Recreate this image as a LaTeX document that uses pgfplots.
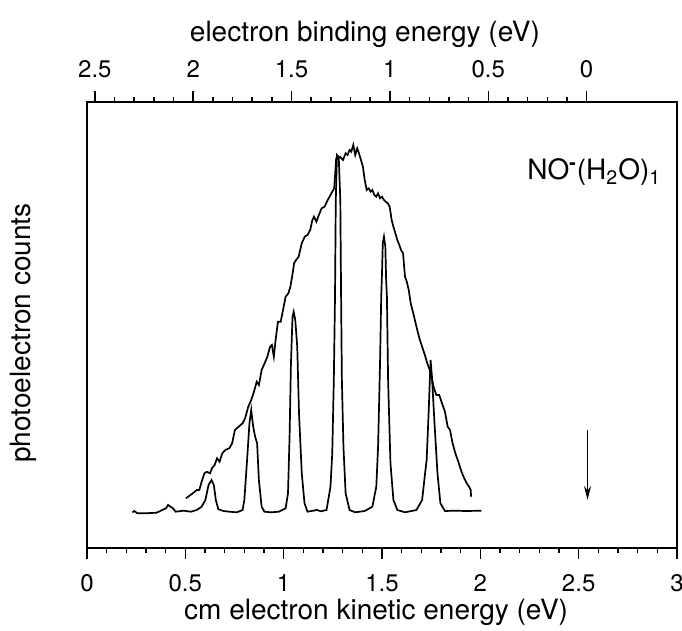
\documentclass[border=0pt]{standalone}
\usepackage{fontspec}
\setmainfont{TeX Gyre Heros}
\usepackage{pgfplots}
\pgfplotsset{compat=1.18}
\usetikzlibrary{arrows.meta}

\begin{document}
\begin{tikzpicture}
\pgfplotsset{
  common/.style={
    width=295pt, height=223pt, scale only axis,
    ymin=0, ymax=446,
    tick align=outside,
    major tick length=5.5pt, minor tick length=2.5pt,
    tick style={black, line width=0.7pt},
    axis line style={line width=0.9pt},
    /pgf/number format/assume math mode=true,
    ticklabel style={font=\fontsize{12}{14}\selectfont},
    label style={font=\fontsize{14}{16}\selectfont},
  },
}
% lower axis: cm kinetic energy
\begin{axis}[
  common, name=main,
  xmin=0, xmax=3,
  xtick={0,0.5,...,3}, minor x tick num=4,
  xtick pos=bottom,
  xticklabel style={yshift=-4pt},
  ytick=\empty,
  xlabel={cm electron kinetic energy (eV)},
  ylabel={photoelectron counts},
  xlabel style={at={(axis description cs:0.49,0)}, anchor=base, yshift=-35.5pt},
  ylabel style={at={(axis description cs:-0.108,0.482)}, anchor=center, rotate=0},
  clip=false,
]
% envelope (broad) spectrum
\addplot[black, line width=0.85pt] coordinates {
(0.503,49.7)(0.519,52)(0.538,54.7)(0.558,58)(0.571,58)(0.583,66.3)(0.597,74.7)(0.610,76.3)(0.626,74.7)(0.635,79.7)(0.649,83)(0.661,89.7)(0.674,86.3)(0.688,94.7)(0.703,98)(0.723,99.7)(0.738,104.7)(0.752,118)(0.771,121.3)(0.791,124.7)(0.804,129.7)(0.820,141.3)(0.835,148)(0.849,156.3)(0.863,166.3)(0.874,163)(0.888,178)(0.903,184.7)(0.917,191.3)(0.931,201.3)(0.940,203)(0.950,191.3)(0.960,209.7)(0.971,226.3)(0.985,226.3)(0.995,236.3)(1.010,251.3)(1.024,254.7)(1.034,261.3)(1.043,271.3)(1.053,284.7)(1.063,288)(1.076,291.3)(1.092,304.7)(1.107,311.3)(1.121,313)(1.135,318)(1.146,328)(1.154,331.3)(1.166,326.3)(1.179,333)(1.193,339.7)(1.208,341.3)(1.224,348)(1.238,353)(1.247,356.3)(1.257,359.7)(1.267,389.7)(1.286,391.3)(1.302,388)(1.315,394.7)(1.325,393)(1.335,398)(1.344,396.3)(1.354,403)(1.364,393)(1.374,399.7)(1.383,394.7)(1.393,388)(1.403,381.3)(1.412,368)(1.422,358)(1.432,359.7)(1.442,356.3)(1.451,358)(1.461,353)(1.471,351.3)(1.480,354.7)(1.490,349.7)(1.500,351.3)(1.510,348)(1.519,346.3)(1.529,344.7)(1.539,341.3)(1.549,328)(1.558,321.3)(1.568,314.7)(1.578,308)(1.588,303)(1.597,298)(1.607,294.7)(1.617,271.3)(1.626,266.3)(1.636,258)(1.646,244.7)(1.659,234.7)(1.675,221.3)(1.690,209.7)(1.704,201.3)(1.718,193)(1.730,184.7)(1.743,178)(1.752,171.3)(1.762,161.3)(1.776,153)(1.791,153)(1.805,144.7)(1.820,136.3)(1.834,121.3)(1.846,118)(1.859,104.7)(1.873,94.7)(1.888,86.3)(1.904,76.3)(1.918,69.7)(1.931,64.7)(1.943,61.3)(1.951,58)(1.953,51.3)
};
% resolved (narrow-peak) spectrum
\addplot[black, line width=0.85pt] coordinates {
(0.231,35.7)(0.241,37)(0.256,34.7)(0.295,34.7)(0.354,35.3)(0.383,38)(0.402,39.7)(0.412,43)(0.425,41.3)(0.437,39.7)(0.451,36.3)(0.490,37.3)(0.528,36.3)(0.558,38)(0.583,41.3)(0.602,48)(0.618,63)(0.633,68)(0.645,63)(0.655,48)(0.668,38.7)(0.694,37)(0.723,36.3)(0.762,35.7)(0.791,38)(0.800,48)(0.814,88)(0.826,124.7)(0.835,138)(0.845,121.3)(0.855,111.3)(0.865,104.7)(0.874,68)(0.888,41.3)(0.902,36.3)(0.936,35.7)(0.975,36.3)(1.010,39.7)(1.022,54.7)(1.030,111.3)(1.037,184.7)(1.045,231.3)(1.051,236.3)(1.059,228)(1.069,201.3)(1.078,134.7)(1.092,74.7)(1.106,44.7)(1.121,36.3)(1.150,37.3)(1.170,38)(1.189,36.7)(1.218,38)(1.238,61.3)(1.247,94.7)(1.255,168)(1.261,251)(1.265,348)(1.271,393)(1.280,391)(1.288,348)(1.292,251)(1.296,168)(1.304,101)(1.315,54.7)(1.335,38)(1.364,35.7)(1.412,37)(1.451,41.3)(1.471,61.3)(1.480,101)(1.490,184.7)(1.496,251)(1.500,274.7)(1.504,304.7)(1.510,311.3)(1.517,301.3)(1.521,268)(1.525,251)(1.531,168)(1.543,84.7)(1.558,48)(1.578,38)(1.617,35.7)(1.675,38)(1.704,48)(1.719,74.7)(1.727,88)(1.737,134.7)(1.747,188)(1.754,171.3)(1.766,128)(1.782,74.7)(1.797,44.7)(1.820,37)(1.869,37.3)(1.927,37)(2.005,37.3)
};
\draw[-{Stealth[length=7pt,width=3.5pt]}, line width=0.8pt] (axis cs:2.545,118) -- (axis cs:2.545,48);
\node[anchor=base west, font=\fontsize{14}{16}\selectfont, inner sep=0pt]
  at (axis cs:2.237,368) {NO\textsuperscript{\textbf{-}}(H\textsubscript{2}O)\textsubscript{1}};
\end{axis}
% upper axis: binding energy
\begin{axis}[
  common,
  x dir=reverse,
  xmin=-0.46, xmax=2.54,
  xtick={0,0.5,...,2.5}, minor x tick num=4,
  axis x line*=top,
  axis y line=none,
  xticklabel style={yshift=3pt},
  xlabel={electron binding energy (eV)},
  xlabel style={at={(axis description cs:0.471,1)}, anchor=base, yshift=30pt},
]
\end{axis}
\pgfresetboundingbox
\useasboundingbox ([xshift=-43.5pt,yshift=-41pt]main.south west) rectangle ([xshift=2.5pt,yshift=51pt]main.north east);
\end{tikzpicture}
\end{document}
